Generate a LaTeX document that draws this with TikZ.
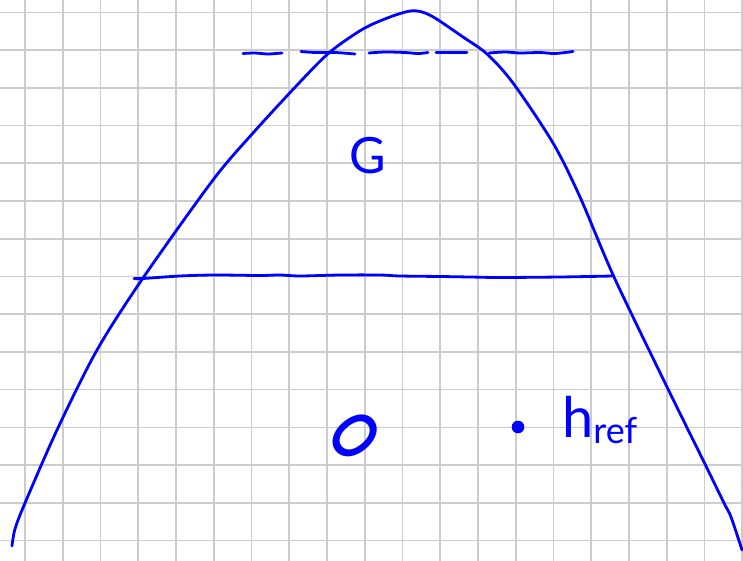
\documentclass[tikz,border=0pt]{standalone}
\usepackage{fontspec}
\setmainfont{Lato}
\begin{document}
\begin{tikzpicture}[x=1pt,y=-1pt,
  gridline/.style={draw={rgb,255:red,204;green,204;blue,204},line width=1.6pt},
  ink/.style={draw=blue,line width=2.8pt,line cap=round,line join=round},
  lbl/.style={text=blue,inner sep=0pt}]
\useasboundingbox (0,0) rectangle (743,561);
\fill[white] (0,0) rectangle (743,561);
% grid
\foreach \i in {0,...,19} \draw[gridline] ({25+37.75*\i},0) -- ({25+37.75*\i},561);
\foreach \j in {0,...,14} \draw[gridline] (0,{12.4+37.72*\j}) -- (743,{12.4+37.72*\j});
% main curve
\draw[ink] plot[smooth,tension=0.5] coordinates {
 (12,546) (15,529) (25,503) (57,430) (97,350) (143,278) (213,180)
 (253,133) (300,82) (330,52) (363,29) (390,17) (410,11) (422,12)
 (435,18) (463,37) (487,54) (513,83) (553,143) (580,197) (614,277)
 (667,387) (703,460) (724,503) (731,517) (742,550)};
% horizontal line
\draw[ink] plot[smooth,tension=0.5] coordinates {
 (134,278.5) (143,278.5) (180,276) (215,275) (260,275.5) (280,275) (300,276)
 (340,275) (380,275) (400,276) (440,276.5) (470,277) (500,277.5) (560,277) (613,276)};
% dashed line (hand-drawn segments)
\draw[ink] plot[smooth] coordinates {(243,53.5) (255,53) (268,54) (282,53)};
\draw[ink] plot[smooth] coordinates {(301,51.5) (315,52.5) (335,52.5) (355,54)};
\draw[ink] plot[smooth] coordinates {(369,53) (385,52) (405,52.5) (418,53.5) (428,52.5)};
\draw[ink] plot[smooth] coordinates {(436,52.5) (450,52.5) (467,52.5)};
\draw[ink] plot[smooth] coordinates {(489,53) (505,52) (520,53) (540,52.5) (555,53.5) (573,51.5)};
% labels
\node[lbl,font=\fontsize{50}{50}\selectfont] (G) at (368,156) {G};
\node[lbl,font=\bfseries\fontsize{66}{66}\selectfont,rotate=-50,xscale=0.72] (O) at (355,436) {O};
\fill[blue] (518,427) circle (6.3) node (dot) {};
\node[lbl,anchor=base west,font=\fontsize{56}{56}\selectfont] (href) at (562,437)
  {h\raisebox{-6pt}{\fontsize{36}{36}\selectfont ref}};
\end{tikzpicture}
\end{document}
